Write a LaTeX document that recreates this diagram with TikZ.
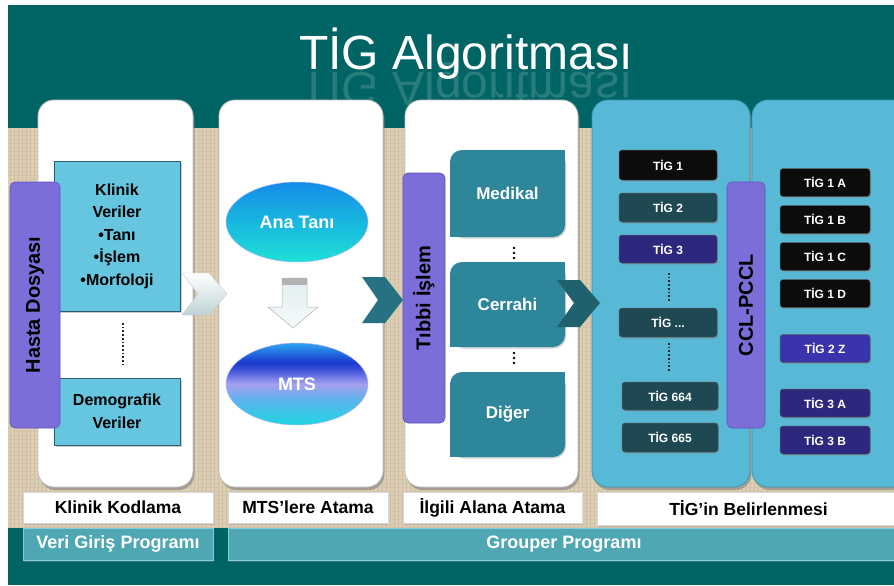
\documentclass[tikz,border=0pt]{standalone}
\usepackage{fontspec}
\setmainfont{Liberation Sans}
\usetikzlibrary{shapes.geometric,shadows}
\definecolor{bgteal}{RGB}{0,100,100}
\definecolor{beige}{RGB}{222,208,182}
\definecolor{beigeline}{RGB}{206,190,160}
\definecolor{purpc}{RGB}{124,110,216}
\definecolor{purpedge}{RGB}{96,84,190}
\definecolor{cyanbox}{RGB}{102,197,223}
\definecolor{cyanedge}{RGB}{40,95,115}
\definecolor{colblue}{RGB}{88,185,214}
\definecolor{colblueedge}{RGB}{58,150,182}
\definecolor{medc}{RGB}{46,134,155}
\definecolor{chevdark}{RGB}{38,114,130}
\definecolor{tblack}{RGB}{12,12,12}
\definecolor{tslate}{RGB}{30,72,82}
\definecolor{tindigo}{RGB}{45,40,125}
\definecolor{tviolet}{RGB}{58,52,172}
\definecolor{barc}{RGB}{78,167,179}
\definecolor{baredge}{RGB}{130,205,215}
\pgfdeclareverticalshading{mtsshade}{100bp}{color(0bp)=(rgb,255:red,30;green,215;blue,225);
 color(25bp)=(rgb,255:red,30;green,215;blue,225);
 color(40bp)=(rgb,255:red,90;green,180;blue,235);
 color(50bp)=(rgb,255:red,165;green,160;blue,240);
 color(58bp)=(rgb,255:red,70;green,90;blue,220);
 color(63bp)=(rgb,255:red,25;green,55;blue,205);
 color(75bp)=(rgb,255:red,45;green,165;blue,240);
 color(100bp)=(rgb,255:red,45;green,165;blue,240)}
\tikzset{
 colw/.style={rounded corners=16, fill=white, draw=black!25, line width=0.8, inner sep=0,
   drop shadow={opacity=0.6,shadow xshift=1.5pt,shadow yshift=-3pt}},
 colb/.style={colw, fill=colblue, draw=colblueedge},
 vbar/.style={rounded corners=5, fill=purpc, draw=purpedge, line width=0.6, inner sep=0,
   text=black, font=\bfseries\fontsize{20}{24}\selectfont, rotate=90},
 cbox/.style={fill=cyanbox, draw=cyanedge, line width=0.6, inner sep=0, align=center,
   font=\bfseries\fontsize{16}{22.5}\selectfont,
   drop shadow={opacity=0.4,shadow xshift=1.5pt,shadow yshift=-1.5pt}},
 ell/.style={ellipse, inner sep=0, text=white, font=\bfseries\fontsize{18}{21}\selectfont,
   draw=white!70!blue, line width=0.5},
 medbox/.style={rounded corners=12, fill=medc, inner sep=0, minimum width=115,
   text=white, font=\bfseries\fontsize{17}{20}\selectfont},
 tig/.style={rounded corners=3, inner sep=0, minimum width=98, minimum height=29,
   text=white, font=\bfseries\fontsize{12}{14}\selectfont, draw=white!35!black, line width=0.5,
   drop shadow={opacity=0.4,shadow xshift=1pt,shadow yshift=-1.5pt}},
 tigr/.style={tig, minimum width=90, minimum height=28},
 lab/.style={fill=white, draw=black!15, inner sep=0, minimum height=31,
   font=\bfseries\fontsize{17.5}{20}\selectfont, text=black,
   drop shadow={opacity=0.35,shadow xshift=1pt,shadow yshift=-1.5pt}},
 bar/.style={fill=barc, draw=baredge, line width=0.8, inner sep=0, minimum height=32,
   font=\bfseries\fontsize{18}{21}\selectfont, text=white,
   drop shadow={opacity=0.45,shadow xshift=1pt,shadow yshift=-1.5pt}},
 dotl/.style={dotted, line width=1.7, black!85},
}
\begin{document}
\begin{tikzpicture}[x=1pt,y=-1pt]
\useasboundingbox (0,0) rectangle (894,586);
\clip (0,0) rectangle (894,586);
% backgrounds
\fill[white] (0,0) rectangle (894,586);
\fill[bgteal] (8,5) rectangle (894,585);
\fill[beige] (8,128) rectangle (894,528);
\foreach \x in {10,14,...,894} \draw[beigeline, line width=0.6] (\x,128) -- (\x,528);
\foreach \y in {131,135,...,528} \draw[beigeline!60!beige, line width=0.5] (8,\y) -- (894,\y);
% title
\node[white, opacity=0.16, transform shape, yscale=-1, anchor=base, font=\fontsize{48}{56}\selectfont] (titler) at (466,73) {TİG Algoritması};
\node[white, anchor=base, font=\fontsize{48}{56}\selectfont] (title) at (466,70) {TİG Algoritması};
% columns
\node[colw, minimum width=155, minimum height=387] (c1) at (115.5,293.5) {};
\node[colw, minimum width=164, minimum height=387] (c2) at (301,293.5) {};
\node[colw, minimum width=173, minimum height=387] (c3) at (491.5,293.5) {};
\node[colb, minimum width=158, minimum height=387] (c4) at (671,293.5) {};
\node[colb, minimum width=158, minimum height=387] (c5) at (831,293.5) {};
% column 1
\node[cbox, minimum width=126, minimum height=150] (kv) at (117,236) {Klinik\\Veriler\\•Tanı\\•İşlem\\•Morfoloji};
\node[cbox, minimum width=126, minimum height=67] (dv) at (117,411.5) {Demografik\\Veriler};
\draw[dotl] (123,323) -- (123,367);
\node[vbar, minimum width=246, minimum height=50] (hd) at (35,305) {Hasta Dosyası};
% light chevron
\shade[top color=white, bottom color={rgb,255:red,190;green,210;blue,215}, draw=black!20, line width=0.4]
 (182,273) -- (209,273) -- (227,294) -- (209,315) -- (182,315) -- (198,294) -- cycle;
% column 2
\node[ell, minimum width=142, minimum height=80, top color={rgb,255:red,20;green,140;blue,232}, bottom color={rgb,255:red,30;green,225;blue,215}] (ana) at (297,222) {Ana Tanı};
\node[ell, minimum width=142, minimum height=82, shade, shading=mtsshade] (mts) at (297,384) {MTS};
\shade[top color={rgb,255:red,225;green,238;blue,240}, bottom color={rgb,255:red,245;green,250;blue,250}, draw=black!30, line width=0.5]
 (282,278) -- (307,278) -- (307,307) -- (318,307) -- (293,328) -- (268,307) -- (282,307) -- cycle;
\fill[black!30] (282.3,278.3) rectangle (306.7,285);
% dark chevron 1
\fill[chevdark] (362,277) -- (385,277) -- (403,300) -- (385,323) -- (362,323) -- (378,300) -- cycle;
% column 3
\node[vbar, minimum width=250, minimum height=42] (ti) at (424,298) {Tıbbi İşlem};
\node[medbox, minimum height=87, drop shadow={opacity=0.35,shadow xshift=1pt,shadow yshift=-1.5pt}] (med) at (507.5,193.5) {Medikal};
\node[medbox, minimum height=85, drop shadow={opacity=0.35,shadow xshift=1pt,shadow yshift=-1.5pt}] (cer) at (507.5,304.5) {Cerrahi};
\node[medbox, minimum height=85, drop shadow={opacity=0.35,shadow xshift=1pt,shadow yshift=-1.5pt}] (dig) at (507.5,414.5) {Diğer};
\foreach \n in {med,cer,dig}{
  \fill[medc] (\n.north east) rectangle ++(-13,13);
  \fill[medc] (\n.south west) rectangle ++(13,-13);
}
\foreach \y in {248,253,258,353,358,363} \fill[black] (514,\y) circle (1.3);
% dark chevron 2
\fill[chevdark!85!black] (557,280) -- (580,280) -- (600,303) -- (580,327) -- (557,327) -- (574,303) -- cycle;
% column 4
\node[tig, fill=tblack, minimum height=30] (t1) at (668,165) {TİG 1};
\node[tig, fill=tslate] (t2) at (668,207.5) {TİG 2};
\node[tig, fill=tindigo, minimum height=28] (t3) at (668,249) {TİG 3};
\draw[dotl] (669,273) -- (669,302);
\node[tig, fill=tslate] (tx) at (668,322.5) {TİG ...};
\draw[dotl] (669,343) -- (669,372);
\node[tig, fill=tslate, minimum width=96, minimum height=28] (t664) at (670,396) {TİG 664};
\node[tig, fill=tslate, minimum width=96] (t665) at (670,437.5) {TİG 665};
\node[vbar, minimum width=246, minimum height=38] (ccl) at (746,305) {CCL-PCCL};
% column 5
\node[tigr, fill=tblack] (a1) at (825,182.5) {TİG 1 A};
\node[tigr, fill=tblack] (b1) at (825,219.5) {TİG 1 B};
\node[tigr, fill=tblack] (c1x) at (825,256.5) {TİG 1 C};
\node[tigr, fill=tblack] (d1) at (825,293.5) {TİG 1 D};
\node[tigr, fill=tviolet] (z2) at (825,348.5) {TİG 2 Z};
\node[tigr, fill=tindigo] (a3) at (825,403) {TİG 3 A};
\node[tigr, fill=tindigo] (b3) at (825,440) {TİG 3 B};
% labels
\node[lab, minimum width=190] (l1) at (118,507.5) {Klinik Kodlama};
\node[lab, minimum width=160] (l2) at (308,507.5) {MTS’lere Atama};
\node[lab, minimum width=179] (l3) at (492.5,507.5) {İlgili Alana Atama};
\node[lab, minimum width=303, minimum height=33] (l4) at (748.5,508.5) {TİG’in Belirlenmesi};
% bars
\node[bar, minimum width=190] (vg) at (118,544) {Veri Giriş Programı};
\node[bar, minimum width=672] (gp) at (564,544) {Grouper Programı};
\end{tikzpicture}
\end{document}
